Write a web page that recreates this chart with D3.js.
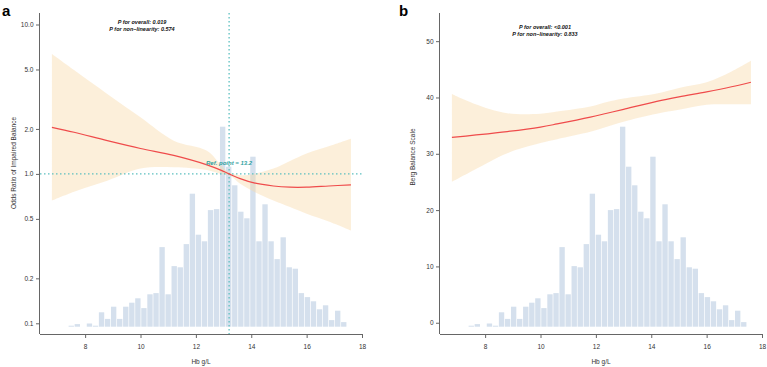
<!DOCTYPE html>
<html>
<head>
<meta charset="utf-8">
<script src="https://cdn.jsdelivr.net/npm/d3@7"></script>
<style>
  body { margin: 0; background: #fff; }
  svg text { font-family: "Liberation Sans", Arial, sans-serif; }
  .axis path, .axis line { stroke: #666; stroke-width: 1; }
  .axis text { fill: #333; font-size: 6.5px; }
</style>
</head>
<body>
<div id="chart-area"></div>
<script>
// histogram of Hb (same in both panels), relative heights, tallest bin = 100
var histStart = 7.39;
var histBinWidth = 0.2187;
var histCounts = [0.5, 1.3, 0, 1.6, 0.5, 7.2, 3.9, 10, 3.9, 10, 12, 14.2, 9.3, 16.2, 16.8,
    39.8, 16.2, 30.3, 29.7, 41.3, 66.5, 46, 42.7, 58.3, 58.8, 100, 80, 70.7, 57.5, 54.2,
    85, 42.7, 61.2, 42.7, 33.8, 44.7, 29.7, 29, 16.8, 14.8, 12.7, 8.7, 10.7, 3.3, 8, 2.3];

// panel a: odds ratio spline
var hbA = [6.8, 7.6, 8.8, 10.0, 11.2, 12.4, 12.9, 13.2, 13.6, 14.1, 14.8, 15.4, 16.0, 16.8, 17.6];
var orFit = [2.05, 1.9, 1.67, 1.48, 1.33, 1.15, 1.06, 1.0, 0.93, 0.87, 0.83, 0.815, 0.815, 0.83, 0.845];
var orUpper = [6.35, 4.96, 3.43, 2.39, 1.67, 1.43, 1.15, 1.02, 0.98, 1.0, 1.085, 1.22, 1.37, 1.53, 1.72];
var orLower = [0.663, 0.76, 0.9, 1.085, 1.107, 1.06, 1.0, 0.98, 0.86, 0.76, 0.663, 0.6, 0.542, 0.48, 0.418];
var orTicks = [0.1, 0.2, 0.5, 1.0, 2.0, 5.0, 10.0];
var refPoint = 13.2;

// panel b: Berg balance scale spline
var hbB = [6.8, 7.6, 8.8, 10.0, 10.6, 11.8, 12.4, 13.0, 14.2, 15.0, 16.0, 16.9, 17.6];
var bbsFit = [32.9, 33.3, 33.95, 34.75, 35.3, 36.5, 37.2, 37.9, 39.3, 40.1, 41.0, 41.9, 42.7];
var bbsUpper = [40.6, 38.9, 37.2, 37.1, 37.5, 38.4, 39.2, 39.8, 40.7, 41.7, 42.7, 44.6, 46.5];
var bbsLower = [25.0, 27.1, 30.1, 31.9, 32.6, 33.9, 34.8, 35.7, 37.1, 37.8, 38.7, 38.8, 38.8];
var bbsTicks = [0, 10, 20, 30, 40, 50];

var xTicks = [8, 10, 12, 14, 16, 18];

var svg = d3.select("#chart-area")
    .append("svg")
    .attr("width", 767)
    .attr("height", 367);

function drawPanel(p) {
    var top = 13, bottom = 334;

    var x = d3.scaleLinear().domain([6.37, 18]).range([p.left, p.left + 322]);
    var y = p.yScale.range([bottom, top]);
    var hy = d3.scaleLinear().domain([0, 100]).range([bottom - 7.3, 126.7]);

    var g = svg.append("g");

    // histogram
    g.selectAll("rect.bin")
        .data(histCounts)
        .enter()
        .append("rect")
        .attr("class", "bin")
        .attr("x", function(d, i) { return x(histStart + i * histBinWidth) + 0.35; })
        .attr("width", x(histStart + histBinWidth) - x(histStart) - 0.7)
        .attr("y", function(d) { return hy(d); })
        .attr("height", function(d) { return hy(0) - hy(d); })
        .attr("fill", "#d5e0ed");

    var pts = p.hb.map(function(h, i) {
        return { hb: h, fit: p.fit[i], lo: p.lower[i], hi: p.upper[i] };
    });

    var area = d3.area()
        .x(function(d) { return x(d.hb); })
        .y0(function(d) { return y(d.lo); })
        .y1(function(d) { return y(d.hi); })
        .curve(d3.curveCatmullRom);

    g.append("path")
        .datum(pts)
        .attr("d", area)
        .attr("fill", "#f9d9a8")
        .attr("fill-opacity", 0.42);

    var line = d3.line()
        .x(function(d) { return x(d.hb); })
        .y(function(d) { return y(d.fit); })
        .curve(d3.curveCatmullRom);

    // reference lines (panel a only)
    if (p.ref) {
        g.append("line")
            .attr("x1", p.left).attr("x2", p.left + 322)
            .attr("y1", y(1)).attr("y2", y(1))
            .attr("stroke", "#5cc0c0").attr("stroke-width", 1.3)
            .attr("stroke-dasharray", "1.5,2.5");
        g.append("line")
            .attr("x1", x(p.ref)).attr("x2", x(p.ref))
            .attr("y1", top).attr("y2", bottom)
            .attr("stroke", "#5cc0c0").attr("stroke-width", 1.3)
            .attr("stroke-dasharray", "1.5,2.5");
    }

    g.append("path")
        .datum(pts)
        .attr("d", line)
        .attr("fill", "none")
        .attr("stroke", "#ef4b4b")
        .attr("stroke-width", 1.2);

    if (p.ref) {
        g.append("text")
            .attr("x", x(p.ref))
            .attr("y", 165)
            .attr("text-anchor", "middle")
            .attr("font-size", "6px")
            .attr("font-weight", "bold")
            .attr("font-style", "italic")
            .attr("fill", "#2e9e9e")
            .text("Ref. point = " + p.ref);
    }

    // axes
    var yAxisCall = d3.axisLeft(y)
        .tickValues(p.ticks)
        .tickSize(4)
        .tickPadding(2.5)
        .tickFormat(p.format);
    g.append("g")
        .attr("class", "axis")
        .attr("transform", "translate(" + p.left + ",0)")
        .call(yAxisCall)
        .call(function(s) { s.select(".domain").attr("d", "M-0.5," + top + "V" + bottom); });

    var xAxisCall = d3.axisBottom(x)
        .tickValues(xTicks)
        .tickSize(4)
        .tickPadding(6)
        .tickFormat(d3.format("d"));
    g.append("g")
        .attr("class", "axis")
        .attr("transform", "translate(0," + bottom + ")")
        .call(xAxisCall)
        .call(function(s) { s.select(".domain").attr("d", "M" + p.left + ",0.5H" + (p.left + 322)); });

    // labels
    g.append("text")
        .attr("x", p.left + 161)
        .attr("y", 364)
        .attr("text-anchor", "middle")
        .attr("font-size", "6.5px")
        .attr("fill", "#333")
        .text("Hb g/L");

    g.append("text")
        .attr("transform", "translate(" + p.ylabX + "," + p.ylabY + ") rotate(-90)")
        .attr("text-anchor", "middle")
        .attr("font-size", "6.5px")
        .attr("fill", "#333")
        .text(p.ylab);

    p.pText.forEach(function(t, i) {
        g.append("text")
            .attr("x", p.pX)
            .attr("y", p.pY + i * 7)
            .attr("text-anchor", "middle")
            .attr("font-size", "5.5px")
            .attr("font-weight", "bold")
            .attr("font-style", "italic")
            .attr("fill", "#111")
            .text(t);
    });

    g.append("text")
        .attr("x", p.tagX)
        .attr("y", 16)
        .attr("font-size", "15px")
        .attr("font-weight", "bold")
        .attr("fill", "#000")
        .text(p.tag);
}

drawPanel({
    left: 40,
    yScale: d3.scaleLog().domain([0.0848, 11.94]),
    ticks: orTicks,
    format: d3.format(".1f"),
    hb: hbA, fit: orFit, upper: orUpper, lower: orLower,
    ref: refPoint,
    ylab: "Odds Ratio of Impaired Balance", ylabX: 16, ylabY: 163,
    pText: ["P for overall: 0.019", "P for non\u2212linearity: 0.574"], pX: 142, pY: 24,
    tag: "a", tagX: 2
});

drawPanel({
    left: 440,
    yScale: d3.scaleLinear().domain([-2, 55]),
    ticks: bbsTicks,
    format: d3.format("d"),
    hb: hbB, fit: bbsFit, upper: bbsUpper, lower: bbsLower,
    ref: null,
    ylab: "Berg Balance Scale", ylabX: 415, ylabY: 157,
    pText: ["P for overall: <0.001", "P for non\u2212linearity: 0.833"], pX: 545, pY: 29,
    tag: "b", tagX: 399
});
</script>
</body>
</html>
